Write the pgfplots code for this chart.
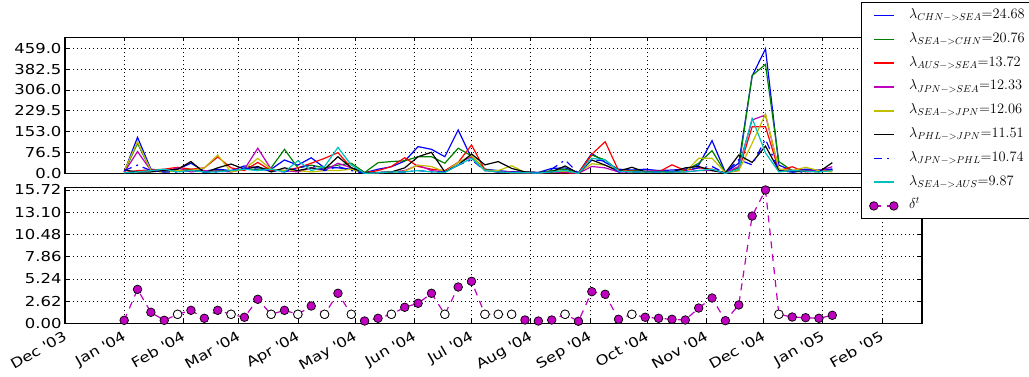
\documentclass[border=0pt]{standalone}
\usepackage{fontspec}
\setmainfont{DejaVu Sans}[FakeStretch=1.2]
\usepackage{pgfplots}
\pgfplotsset{compat=1.18}
\usepackage{pgfplotstable}

\definecolor{mblue}{rgb}{0,0,1}
\definecolor{mgreen}{rgb}{0,0.5,0}
\definecolor{mred}{rgb}{1,0,0}
\definecolor{mmag}{rgb}{0.75,0,0.75}
\definecolor{myel}{rgb}{0.75,0.75,0}
\definecolor{mcyan}{rgb}{0,0.75,0.75}

% weekly rates, day 0 = 1 Dec 2003
\pgfplotstableread{
d   b    g    r    m    y    k    bd   c
31  5    5    2    3    8    12   10   2
38  132  110  10   80   116  5    30   5
45  15   10   12   10   10   5    10   10
52  10   5    15   5    5    10   5    15
59  15   10   22   20   10   15   5    5
66  37   15   15   5    10   43   10   10
73  8    5    20   10   20   2    5    5
80  15   10   60   8    67   20   5    5
87  10   8    20   5    5    34   10   10
94  27   15   10   15   15   15   20   15
101 20   15   40   92   55   25   15   10
108 15   20   10   15   15   5    10   15
115 49   88   10   10   10   20   5    5
122 30   20   20   5    10   10   20   46
129 57   30   37   20   5    20   30   10
136 20   20   55   10   10   15   10   25
143 20   30   76   37   10   61   25   95
150 15   37   20   20   15   20   10   30
157 2    3    2    0    0    2    0    0
164 15   39   10   2    2    3    2    2
171 24   43   25   5    5    5    5    5
178 45   46   57   10   8    20   5    5
185 98   61   25   30   30   61   10   10
192 88   61   15   10   25   77   5    5
199 61   37   10   5    5    5    5    3
206 159  92   40   40   40   30   30   30
213 55   64   104  60   65   71   50   55
220 15   15   12   10   10   31   10   10
227 10   5    5    5    10   43   5    5
234 5    5    2    5    28   18   5    2
241 5    3    2    2    3    5    2    2
248 3    2    2    2    2    3    2    1
255 18   10   3    3    5    5    15   5
262 20   15   2    5    8    27   49   10
269 2    2    0    0    2    0    0    0
276 73   67   70   25   35   49   50   55
283 40   49   116  20   30   30   45   49
290 15   10   10   5    10   8    5    8
297 12   10   8    5    5    22   5    5
304 15   8    5    8    5    5    5    5
311 10   5    5    10   5    8    5    5
318 12   5    31   5    5    5    5    5
325 15   10   10   5    5    20   10   5
332 30   37   20   10   55   25   20   10
339 120  83   15   10   55   10   25   15
346 3    2    2    2    2    2    0    0
353 37   20   10   25   10   67   50   15
360 357  359  171  196  110  40   31   202
367 457  400  171  214  218  100  125  75
374 30   43   10   15   15   10   10   5
381 10   10   24   10   10   5    5    10
388 15   10   5    10   22   8    5    8
395 12   8    10   10   10   5    10   5
402 15   10   10   24   5    39   15   10
}\rates

\pgfplotstableread{
d   v      o
31  0.35   nan
38  4.00   nan
45  1.30   nan
52  0.35   nan
59  1.06   1.06
66  1.53   nan
73  0.59   nan
80  1.53   nan
87  1.06   1.06
94  0.71   nan
101 2.83   nan
108 1.06   1.06
115 1.53   nan
122 1.06   1.06
129 2.04   nan
136 1.06   1.06
143 3.54   nan
150 1.06   1.06
157 0.27   nan
164 0.59   nan
171 1.06   1.06
178 1.89   nan
185 2.36   nan
192 3.54   nan
199 1.06   1.06
206 4.28   nan
213 4.95   nan
220 1.06   1.06
227 1.06   1.06
234 1.06   1.06
241 0.39   nan
248 0.27   nan
255 0.39   nan
262 1.06   1.06
269 0.24   nan
276 3.73   nan
283 3.42   nan
290 0.47   nan
297 1.06   1.06
304 0.71   nan
311 0.59   nan
318 0.47   nan
325 0.39   nan
332 1.80   nan
339 2.98   nan
346 0.31   nan
353 2.16   nan
360 12.65  nan
367 15.72  nan
374 1.06   1.06
381 0.74   nan
388 0.66   nan
395 0.59   nan
402 0.94   nan
}\deltatab

\pgfplotsset{
  panel/.style={
    scale only axis, anchor=south west,
    width=857pt, height=136pt,
    xmin=0, xmax=449,
    xtick={0,31,62,91,122,152,183,213,244,275,305,336,366,397,428},
    grid=major,
    grid style={black, line width=0.6pt, dash pattern=on 1pt off 3pt},
    axis line style={line width=1.1pt},
    tick align=inside, major tick length=4pt,
    tick style={black, line width=0.6pt},
    tick label style={font=\fontsize{13.7}{16}\selectfont},
    scaled y ticks=false,
  },
  ln/.style={line width=1.2pt, mark=none},
  twomarks/.style={legend image code/.code={\draw[mark repeat=1,##1] plot coordinates {(0pt,0pt) (20pt,0pt)};}},
}

\begin{document}
\begin{tikzpicture}
\useasboundingbox (0,0) rectangle (1029pt,377pt);

\begin{axis}[panel,
  at={(65pt,53.7pt)},
  ymin=0, ymax=16.04,
  ytick={0,2.62,5.24,7.86,10.48,13.10,15.72},
  yticklabel style={/pgf/number format/.cd, fixed, fixed zerofill, precision=2, assume math mode=true},
  xticklabels={Dec \textquotesingle03, Jan \textquotesingle04, Feb \textquotesingle04, Mar \textquotesingle04, Apr \textquotesingle04, May \textquotesingle04, Jun \textquotesingle04, Jul \textquotesingle04, Aug \textquotesingle04, Sep \textquotesingle04, Oct \textquotesingle04, Nov \textquotesingle04, Dec \textquotesingle04, Jan \textquotesingle05, Feb \textquotesingle05},
  xticklabel style={rotate=30, anchor=north east, xshift=-2pt, yshift=-1pt},
]
\addplot[mmag, line width=1.2pt, dash pattern=on 7pt off 6pt,
  mark=*, mark size=4.3pt, mark options={solid, fill=mmag, draw=black, line width=0.7pt}]
  table[x=d, y=v] {\deltatab};
\addplot[only marks, mark=*, mark size=4.3pt, mark options={fill=white, draw=black, line width=0.7pt}]
  table[x=d, y=o] {\deltatab};
\end{axis}

\begin{axis}[panel,
  at={(65pt,203.7pt)},
  ymin=0, ymax=499.4,
  ytick={0,76.5,153,229.5,306,382.5,459},
  yticklabel style={/pgf/number format/.cd, fixed, fixed zerofill, precision=1, assume math mode=true},
  xticklabels={},
  legend image code/.code={\draw[#1, line width=1.6pt] (0pt,0pt) -- (20pt,0pt);},
  legend cell align=left,
  legend style={at={(0.9288,1.2596)}, anchor=north west, draw=black, line width=1.1pt,
    fill=white, font=\fontsize{14}{16}\selectfont,
    inner xsep=8pt, inner ysep=3pt, row sep=3.8pt,
    nodes={inner sep=2pt, text height=11pt, text depth=5pt},
    /tikz/every odd column/.append style={column sep=9pt}},
]
\addplot[ln, color=mblue] table[x=d, y=b] {\rates};
\addlegendentry{$\lambda_{CHN->SEA}{=}24.68$}
\addplot[ln, color=mgreen] table[x=d, y=g] {\rates};
\addlegendentry{$\lambda_{SEA->CHN}{=}20.76$}
\addplot[ln, color=mred] table[x=d, y=r] {\rates};
\addlegendentry{$\lambda_{AUS->SEA}{=}13.72$}
\addplot[ln, color=mmag] table[x=d, y=m] {\rates};
\addlegendentry{$\lambda_{JPN->SEA}{=}12.33$}
\addplot[ln, color=myel] table[x=d, y=y] {\rates};
\addlegendentry{$\lambda_{SEA->JPN}{=}12.06$}
\addplot[ln, color=black] table[x=d, y=k] {\rates};
\addlegendentry{$\lambda_{PHL->JPN}{=}11.51$}
\addplot[ln, color=mblue, dash pattern=on 8pt off 5pt on 2pt off 5pt] table[x=d, y=bd] {\rates};
\addlegendentry{$\lambda_{JPN->PHL}{=}10.74$}
\addplot[ln, color=mcyan] table[x=d, y=c] {\rates};
\addlegendentry{$\lambda_{SEA->AUS}{=}9.87$}
\addlegendimage{twomarks, mmag, line width=1.2pt, dash pattern=on 7pt off 6pt,
  mark=*, mark size=4.3pt, mark options={solid, fill=mmag, draw=black, line width=0.7pt}}
\addlegendentry{$\delta^t$}
\end{axis}
\end{tikzpicture}
\end{document}
